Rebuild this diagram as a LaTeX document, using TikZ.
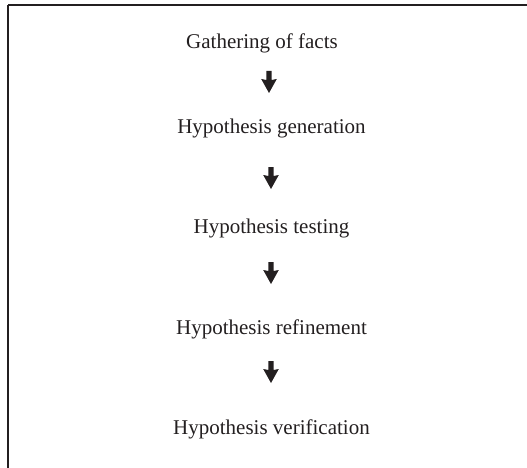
\documentclass[tikz,border=0pt]{standalone}
\usepackage{fontspec}
\setmainfont{Liberation Serif}
\definecolor{ink}{HTML}{231F20}
\begin{document}
\begin{tikzpicture}[x=1pt,y=-1pt,
  stage/.style={anchor=base,inner sep=0pt,text=ink,font=\fontsize{21}{25}\selectfont},
  frameline/.style={draw=ink,line width=2.2pt},
  downarrow/.pic={
    \fill[ink] (-2.6,0) -- (2.6,0) -- (2.6,9) -- (7.8,8) -- (0,22) -- (-7.8,8) -- (-2.6,9) -- cycle;
  }]
  \useasboundingbox (0,0) rectangle (527,468);
  % open frame: top and left sides only
  \draw[frameline] (8,5) -- (527,5);
  \draw[frameline] (8,5) -- (8,468);
  % stages of the process
  \node[stage] (facts) at (262,49) {Gathering of facts};
  \node[stage] (gen)   at (271.5,133) {Hypothesis generation};
  \node[stage] (test)  at (271.5,233) {Hypothesis testing};
  \node[stage] (ref)   at (271.5,334) {Hypothesis refinement};
  \node[stage] (ver)   at (271.5,434) {Hypothesis verification};
  % bold arrows between consecutive stages
  \coordinate (a1) at (269,71);
  \coordinate (a2) at (271,167);
  \coordinate (a3) at (271,262);
  \coordinate (a4) at (271,361);
  \foreach \c in {a1,a2,a3,a4} \pic at (\c) {downarrow};
\end{tikzpicture}
\end{document}
